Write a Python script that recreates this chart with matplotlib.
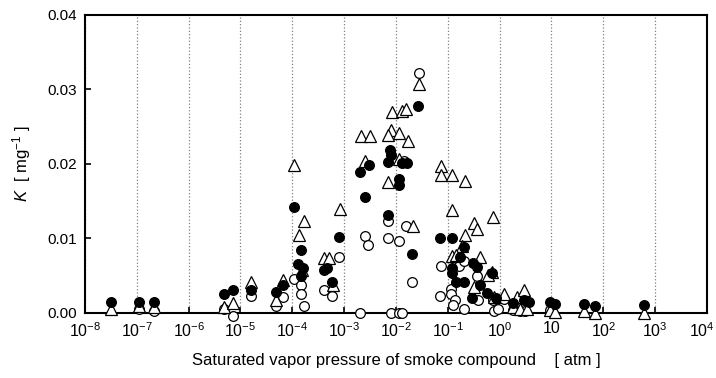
import numpy as np
import matplotlib.pyplot as plt
import matplotlib.transforms as mtransforms

plt.rcParams['font.family'] = ['Liberation Sans', 'DejaVu Sans']
plt.rcParams['mathtext.fontset'] = 'custom'
plt.rcParams['mathtext.rm'] = 'Liberation Sans'
plt.rcParams['mathtext.it'] = 'Liberation Sans:italic'

# filled circles
fill_x = [3.13e-8, 1.12e-7, 2.18e-7, 4.8e-6, 7.1e-6, 1.6e-5, 4.9e-5, 6.6e-5,
          1.1e-4, 1.46e-4, 1.31e-4, 1.64e-4, 1.46e-4,
          4.0e-4, 4.6e-4, 5.8e-4, 8.1e-4,
          2.04e-3, 2.47e-3, 3.08e-3,
          7.73e-3, 7.98e-3, 6.98e-3, 1.30e-2, 1.62e-2, 1.12e-2, 1.12e-2, 6.98e-3, 2.03e-2, 2.65e-2,
          7.13e-2, 0.12, 0.201, 0.173, 0.123, 0.12, 0.305, 0.365, 0.145, 0.207, 0.422,
          0.292, 0.57, 0.71, 0.85, 1.85, 2.9, 3.61, 9.2, 11.8, 41.7, 70.1, 600]
fill_y = [0.0015, 0.0015, 0.0015, 0.0025, 0.0031, 0.0031, 0.0028, 0.0037,
          0.01425, 0.0084, 0.0066, 0.0060, 0.0050,
          0.0057, 0.0060, 0.0041, 0.0102,
          0.01886, 0.0155, 0.0198,
          0.0219, 0.0212, 0.0203, 0.0201, 0.0201, 0.0180, 0.0172, 0.0131, 0.0079, 0.0277,
          0.0101, 0.0101, 0.0089, 0.0075, 0.0060, 0.0053, 0.0067, 0.0061, 0.0041, 0.0042, 0.0038,
          0.0020, 0.0027, 0.0054, 0.0020, 0.0014, 0.0017, 0.0015, 0.0015, 0.0012, 0.0012, 0.0009, 0.0011]

# open circles
open_x = [1.12e-7, 2.18e-7, 4.8e-6, 7.1e-6, 1.6e-5, 4.9e-5, 6.6e-5, 1.1e-4, 1.46e-4, 1.46e-4, 1.71e-4,
          4.0e-4, 5.8e-4, 8.1e-4,
          2.04e-3, 2.54e-3, 2.94e-3, 6.98e-3, 6.98e-3, 1.12e-2, 1.55e-2, 2.03e-2, 1.44e-2,
          8.0e-3, 1.12e-2, 1.30e-2, 2.72e-2,
          7.46e-2, 7.13e-2, 0.168, 0.201, 0.365, 0.117, 0.117, 0.135, 0.125, 0.207,
          0.39, 0.75, 0.78, 0.95, 1.19, 1.85, 2.5, 3.12, 9.2]
open_y = [0.0005, 0.0003, 0.0006, -0.0004, 0.0023, 0.0009, 0.0022, 0.0046, 0.0037, 0.0025, 0.0010,
          0.0031, 0.0023, 0.0075,
          0.0, 0.0103, 0.0091, 0.0123, 0.0100, 0.0096, 0.0116, 0.0042, 0.0204,
          0.0, 0.0, 0.0, 0.0321,
          0.0063, 0.0023, 0.0063, 0.0069, 0.0049, 0.0032, 0.0025, 0.0018, 0.0011, 0.0006,
          0.0017, 0.0017, 0.0002, 0.0005, 0.0019, 0.0004, 0.0002, 0.0002, 0.0004]

# open triangles
tri_x = [3.13e-8, 1.12e-7, 2.18e-7, 4.8e-6, 7.1e-6, 1.6e-5, 4.9e-5, 6.6e-5,
         1.1e-4, 1.71e-4, 1.37e-4, 1.55e-4,
         4.0e-4, 5.0e-4, 6.05e-4, 8.4e-4,
         2.1e-3, 3.1e-3, 2.54e-3,
         8.34e-3, 1.30e-2, 1.55e-2, 7.98e-3, 7.16e-3, 1.15e-2, 1.70e-2, 1.15e-2, 6.98e-3, 2.12e-2, 2.72e-2,
         7.46e-2, 7.46e-2, 0.123, 0.217, 0.123, 0.313, 0.365, 0.741, 0.217, 0.187, 0.123, 0.145,
         0.42, 0.71, 0.583, 0.313, 0.787, 1.24, 2.16, 2.9, 1.85, 2.5, 3.37, 9.5, 11.8, 41.7, 70.1, 600]
tri_y = [0.0005, 0.0009, 0.0008, 0.0008, 0.0013, 0.0041, 0.0017, 0.0044,
         0.0198, 0.0123, 0.01045, 0.0057,
         0.0074, 0.0074, 0.0038, 0.0139,
         0.02377, 0.02368, 0.0204,
         0.0269, 0.0271, 0.0274, 0.0245, 0.0238, 0.0241, 0.0231, 0.0206, 0.0176, 0.0116, 0.0307,
         0.0197, 0.0185, 0.0185, 0.0177, 0.0138, 0.0121, 0.0112, 0.0129, 0.0105, 0.0090, 0.0076, 0.0078,
         0.0075, 0.0055, 0.0051, 0.0035, 0.0022, 0.0026, 0.0022, 0.0031, 0.0008, 0.0006, 0.0006, 0.0004, 0.0001, 0.0002, 0.0, 0.0]

decades = np.arange(-8, 5)
xlabels = [r'$\mathregular{10^{%d}}$' % d for d in decades]
xlabels[decades.tolist().index(1)] = '10'
yticks = [0.0, 0.01, 0.02, 0.03, 0.04]

fig = plt.figure(figsize=(7.16, 3.78), dpi=100)
ax = fig.add_axes([0.1187, 0.172, 0.8687, 0.7896])

ax.plot(open_x, open_y, 'o', ms=7, mfc='white', mec='black', mew=0.9, clip_on=False, zorder=3)
ax.plot(tri_x, tri_y, '^', ms=8, mfc='white', mec='black', mew=0.9, clip_on=False, zorder=4)
ax.plot(fill_x, fill_y, 'o', ms=7, mfc='black', mec='black', mew=0.9, clip_on=False, zorder=5)

ax.set_xscale('log')
ax.set_xlim(1e-8, 1e4)
ax.set_ylim(0, 0.04)
ax.set_xticks([10.0 ** d for d in decades])
ax.set_xticklabels(xlabels)
ax.minorticks_off()
ax.set_yticks(yticks)
ax.set_yticklabels(['%.2f' % v for v in yticks])
ax.tick_params(direction='in', length=4, width=1.2, labelsize=11, pad=6)
ax.tick_params(axis='x', labelsize=11.5)
ax.xaxis.grid(True, linestyle=':', color='gray', linewidth=0.9)
for s in ax.spines.values():
    s.set_linewidth(1.5)

# keep the last decade label inside the canvas
last = ax.get_xticklabels()[-1]
last.set_transform(last.get_transform() + mtransforms.ScaledTranslation(-5 / 100, 0, fig.dpi_scale_trans))

ax.set_xlabel('Saturated vapor pressure of smoke compound    [ atm ]', fontsize=12, labelpad=9)
ax.set_ylabel(r'$\it{K}$  [ mg$^{\mathregular{-1}}$ ]', fontsize=12, labelpad=10)

fig.savefig('out.png', dpi=100)
